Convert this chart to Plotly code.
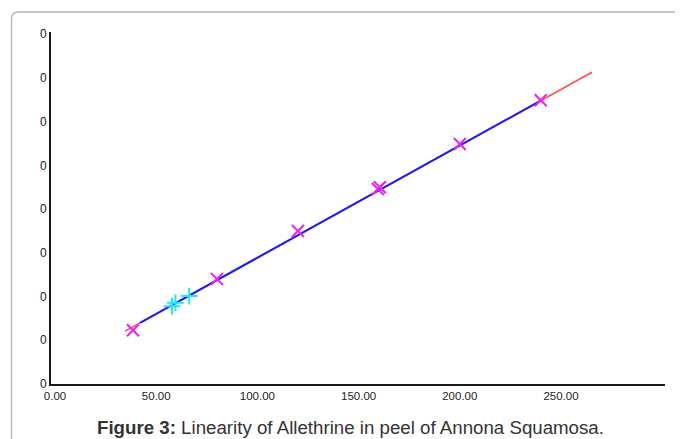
import plotly.graph_objects as go

# The page body has an 8px default margin, so the figure is placed at (8, 8)
# and sized to fill the rest of the 683x439 window.
OFF = 8
W, H = 683 - OFF, 439 - OFF

# ---- data (y in tick-interval units, ticks all labelled "0") ----
sample_x = [38.5, 80, 120, 159.5, 160.5, 200, 240]
sample_y = [1.23, 2.40, 3.50, 4.46, 4.50, 5.49, 6.49]

test_x = [57.8, 59.5, 66.3]
test_y = [1.78, 1.86, 2.01]

extended_x = [34.6, 265.3]
extended_y = [1.21, 7.13]

fit_x = [42, 240]
fit_y = [1.40, 6.48]

x_tick_vals = [0, 50, 100, 150, 200, 250]
x_tick_text = ["0.00", "50.00", "100.00", "150.00", "200.00", "250.00"]
y_tick_vals = [0, 1, 2, 3, 4, 5, 6, 7, 8]
y_tick_text = ["0", "0", "0", "0", "0", "0", "0", "0", "0"]

caption = "<b>Figure 3:</b> Linearity of Allethrine in peel of Annona Squamosa."

FONT = "Liberation Sans, Arial, sans-serif"

fig = go.Figure()
fig.add_trace(go.Scatter(x=extended_x, y=extended_y, mode="lines",
                         line=dict(color="#ff4a4a", width=1.5), hoverinfo="skip"))
fig.add_trace(go.Scatter(x=fit_x, y=fit_y, mode="lines",
                         line=dict(color="#1a1aff", width=2), hoverinfo="skip"))
fig.add_trace(go.Scatter(x=sample_x, y=sample_y, mode="markers",
                         marker=dict(symbol="x-thin", size=12, color="#ee22ee",
                                     line=dict(color="#ee22ee", width=2))))
fig.add_trace(go.Scatter(x=test_x, y=test_y, mode="markers",
                         marker=dict(symbol="cross-thin", size=12, color="#22e6f2",
                                     line=dict(color="#22e6f2", width=2))))


def px(x):
    return (x - OFF) / W


def py(y):
    return 1 - (y - OFF) / H


border = (f"M {px(11.5)},{py(445)} L {px(11.5)},{py(19)} "
          f"Q {px(11.5)},{py(12)} {px(18.5)},{py(12)} L {px(690)},{py(12)}")

fig.update_layout(
    template="none",
    width=W, height=H, autosize=False,
    margin=dict(l=0, r=0, t=0, b=0, pad=0, autoexpand=False),
    paper_bgcolor="white", plot_bgcolor="white",
    showlegend=False,
    font=dict(family=FONT, color="#222"),
    xaxis=dict(domain=[px(51), px(665)], range=[-2, 301.4],
               tickvals=x_tick_vals, ticktext=x_tick_text,
               showgrid=False, zeroline=False, ticks="", automargin=False,
               showline=True, linecolor="#1a1a1a", linewidth=2,
               tickfont=dict(size=11.5, color="#222"), anchor="y"),
    yaxis=dict(domain=[py(384), py(32)], range=[0, 8.05],
               tickvals=y_tick_vals, ticktext=y_tick_text,
               showgrid=False, zeroline=False, ticks="", automargin=False,
               showline=True, linecolor="#1a1a1a", linewidth=2,
               tickfont=dict(size=12, color="#222"), anchor="x"),
    shapes=[dict(type="path", path=border, xref="paper", yref="paper",
                 line=dict(color="#b4b4b4", width=1.3))],
    annotations=[dict(text=caption, xref="paper", yref="paper",
                      x=px(350), y=py(427), showarrow=False,
                      xanchor="center", yanchor="middle",
                      font=dict(family=FONT, size=18.7, color="#333"))],
)

fig.write_html("out.html")
